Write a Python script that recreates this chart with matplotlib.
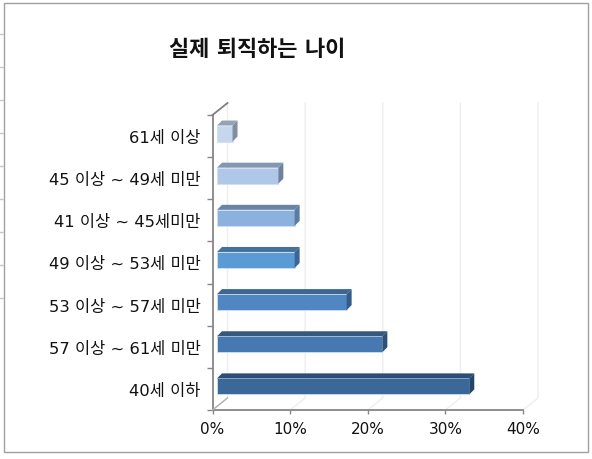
import matplotlib
matplotlib.use("Agg")
import matplotlib.pyplot as plt
from matplotlib.lines import Line2D
from matplotlib.patches import Polygon, Rectangle

plt.rcParams['font.family'] = ['DejaVu Sans', 'Noto Sans CJK KR']

W, H = 592, 460

categories = ["40세 이하", "57 이상 ~ 61세 미만", "53 이상 ~ 57세 미만", "49 이상 ~ 53세 미만",
              "41 이상 ~ 45세미만", "45 이상 ~ 49세 미만", "61세 이상"]
values = [32.5, 21.3, 16.7, 10.0, 10.0, 7.9, 2.0]
face_colors = ["#3A6899", "#4679B0", "#5087C3", "#5B9BD5", "#8DB1DD", "#AFC8E7", "#C6D6EC"]
top_colors = ["#2A4E75", "#34597F", "#3D6690", "#44719E", "#6A84A8", "#8497B0", "#95A3B5"]
side_colors = ["#23466A", "#2D5078", "#345C88", "#3A6595", "#5A7BA3", "#6E829E", "#7F8EA3"]
xticks = [0, 10, 20, 30, 40]
xticklabels = ["0%", "10%", "20%", "30%", "40%"]

fig = plt.figure(figsize=(W / 100, H / 100), dpi=100)
ax = fig.add_axes([212.5 / W, (H - 411) / H, 310.5 / W, 295 / H])
ax.set_xlim(0, 40)
ax.set_ylim(-0.5, 6.5)
ax.set_zorder(2)

# depth of the fake 3d box, in data units
dx = 15 / 7.76
dy = 12 / 42.1
bar_dx = 5 / 7.76
bar_dy = 5 / 42.1
gap = 4.5 / 7.76
bar_h = 0.38
lift = 0.06

# back wall and floor lines
for t in xticks:
    ax.plot([t, t + dx, t + dx], [-0.5, -0.5 + dy, 6.5 + dy], color="#eeeeee", lw=1, clip_on=False, zorder=1)
ax.plot([0, dx], [6.5, 6.5 + dy], color="#808080", lw=1.3, clip_on=False, zorder=3)
ax.plot([0, dx], [-0.5, -0.5 + dy], color="#b0b0b0", lw=1, clip_on=False, zorder=3)

# bars: front face, then top and side faces
ypos = list(range(len(values)))
bar_y = [y + lift for y in ypos]
ax.barh(bar_y, values, left=gap, height=bar_h, color=face_colors, edgecolor="#cfe0f2", linewidth=0.6, zorder=4)
for y, v, tc, sc in zip(bar_y, values, top_colors, side_colors):
    x0, x1 = gap, gap + v
    y0, y1 = y - bar_h / 2, y + bar_h / 2
    ax.add_patch(Polygon([(x0, y1), (x1, y1), (x1 + bar_dx, y1 + bar_dy), (x0 + bar_dx, y1 + bar_dy)],
                         closed=True, facecolor=tc, edgecolor="none", zorder=4, clip_on=False))
    ax.add_patch(Polygon([(x1, y0), (x1 + bar_dx, y0 + bar_dy), (x1 + bar_dx, y1 + bar_dy), (x1, y1)],
                         closed=True, facecolor=sc, edgecolor="none", zorder=4, clip_on=False))

for s in ["top", "right"]:
    ax.spines[s].set_visible(False)
for s in ["left", "bottom"]:
    ax.spines[s].set_color("#868686")
    ax.spines[s].set_linewidth(1.3)

ax.set_xticks(xticks)
ax.set_xticklabels(xticklabels, fontsize=11, color="#111111")
ax.set_yticks([i - 0.5 for i in range(8)])
ax.set_yticklabels([])
ax.set_yticks(ypos, minor=True)
ax.set_yticklabels(categories, minor=True, fontsize=11.8, color="#111111")
ax.tick_params(axis="y", which="major", direction="out", length=4, color="#868686", width=1)
ax.tick_params(axis="y", which="minor", length=0, pad=8.5)
ax.tick_params(axis="x", direction="out", length=3, color="#868686", width=1, pad=5)

fig.text(257 / W, 1 - 50 / H, "실제 퇴직하는 나이", fontsize=15.8, fontweight="bold",
         ha="center", va="center", color="#111111")

# outer frame and the leftover sheet lines behind it
fig.add_artist(Rectangle((3.5 / W, 1 - 452.5 / H), 584.5 / W, 449 / H, transform=fig.transFigure,
                         fill=False, edgecolor="#a0a0a0", lw=1))
for py in range(35, 305, 33):
    fig.add_artist(Line2D([0, 3 / W], [1 - py / H, 1 - py / H], color="#c8c8c8", lw=1))

fig.savefig("out.png", dpi=100)
